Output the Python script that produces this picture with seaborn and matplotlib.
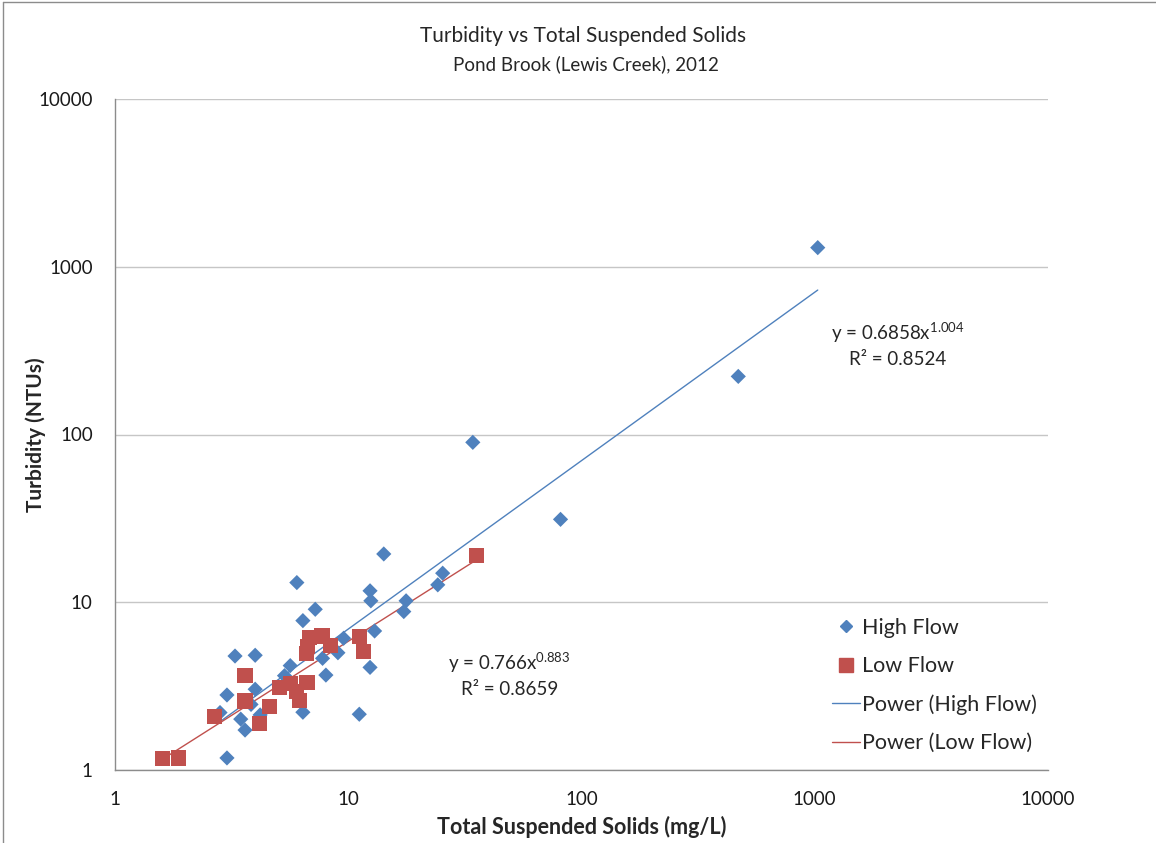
import numpy as np
import pandas as pd
import matplotlib
matplotlib.use("Agg")
import matplotlib.pyplot as plt
import matplotlib.ticker as mticker
from matplotlib.lines import Line2D
import seaborn as sns

# ---------------------------------------------------------------------------
# Data
# ---------------------------------------------------------------------------
high_tss = [1030, 470, 81.3, 34.2, 14.2, 6.02, 12.4, 12.5, 25.4, 24.2, 17.7, 17.3,
            7.22, 6.39, 12.97, 9.55, 9.03, 7.76, 8.02, 12.4, 5.64, 5.33, 3.27, 3.99,
            3.99, 3.02, 3.83, 2.82, 3.46, 4.19, 3.61, 6.39, 11.15, 3.02]
high_turb = [1300, 222, 31.2, 89.8, 19.4, 13.1, 11.7, 10.2, 14.9, 12.7, 10.2, 8.8,
             9.08, 7.77, 6.74, 6.1, 5.0, 4.63, 3.68, 4.09, 4.19, 3.65, 4.78, 4.83,
             3.03, 2.80, 2.46, 2.20, 2.01, 2.13, 1.73, 2.21, 2.15, 1.18]

low_tss = [1.60, 1.87, 2.67, 3.61, 3.61, 4.16, 4.59, 5.07, 5.64, 6.02, 6.16, 6.65,
           6.6, 6.7, 6.82, 7.71, 8.37, 11.15, 11.6, 35.4]
low_turb = [1.17, 1.18, 2.08, 3.65, 2.58, 1.90, 2.39, 3.09, 3.29, 2.93, 2.61, 3.32,
            4.96, 5.43, 6.18, 6.29, 5.51, 6.23, 5.07, 18.9]

# power trendline coefficients shown on the chart
HIGH_FIT = (0.6858, 1.004)
LOW_FIT = (0.766, 0.883)

BLUE = "#4F81BD"
RED = "#C0504D"
FONT = ["Lato", "DejaVu Sans"]

sns.set_theme(style="white")
plt.rcParams["font.family"] = FONT
plt.rcParams["mathtext.fontset"] = "custom"
plt.rcParams["mathtext.rm"] = "Lato"

high = pd.DataFrame({"tss": high_tss, "turb": high_turb})
low = pd.DataFrame({"tss": low_tss, "turb": low_turb})


def power_line(df, coef):
    xs = np.geomspace(df["tss"].min(), df["tss"].max(), 60)
    return pd.DataFrame({"tss": xs, "turb": coef[0] * xs ** coef[1]})


fig = plt.figure(figsize=(11.56, 8.43), dpi=100)
ax = fig.add_axes([115 / 1156, 1 - 770 / 843, 933 / 1156, 671 / 843])
ax.set_xscale("log")
ax.set_yscale("log")

sns.lineplot(data=power_line(high, HIGH_FIT), x="tss", y="turb", ax=ax,
             color=BLUE, linewidth=1.0, label="Power (High Flow)", zorder=2)
sns.lineplot(data=power_line(low, LOW_FIT), x="tss", y="turb", ax=ax,
             color=RED, linewidth=1.0, label="Power (Low Flow)", zorder=2)
sns.scatterplot(data=high, x="tss", y="turb", ax=ax, marker="D", s=60,
                color=BLUE, edgecolor="none", label="High Flow", zorder=3)
sns.scatterplot(data=low, x="tss", y="turb", ax=ax, marker="s", s=120,
                color=RED, edgecolor="none", label="Low Flow", zorder=4)

ax.set_xlim(1, 10000)
ax.set_ylim(1, 10000)
for axis in (ax.xaxis, ax.yaxis):
    axis.set_major_locator(mticker.LogLocator(base=10, numticks=10))
    axis.set_minor_locator(mticker.NullLocator())
    axis.set_major_formatter(mticker.FuncFormatter(lambda v, _: f"{v:g}"))

ax.grid(axis="y", color="#C6C6C6", linewidth=1.0)
ax.grid(axis="x", visible=False)
for side in ("top", "right"):
    ax.spines[side].set_visible(False)
for side in ("left", "bottom"):
    ax.spines[side].set_color("#8C8C8C")
    ax.spines[side].set_linewidth(1.0)
ax.tick_params(axis="both", which="major", direction="out", length=6,
               width=1, color="#8C8C8C", labelsize=13.5, labelcolor="#1a1a1a")
ax.tick_params(axis="y", pad=10)
ax.tick_params(axis="x", pad=9)

ax.set_xlabel("Total Suspended Solids (mg/L)", fontsize=15.5, fontweight="bold",
              labelpad=6)
ax.set_ylabel("Turbidity (NTUs)", fontsize=15, fontweight="bold")
ax.yaxis.set_label_coords(-0.074, 0.5)

# equations
ax.text(0.839, 0.635, "y = 0.6858x$^{\\mathregular{1.004}}$\nR² = 0.8524",
        transform=ax.transAxes, ha="center", va="center", fontsize=13.5,
        multialignment="center", linespacing=1.4)
ax.text(0.423, 0.143, "y = 0.766x$^{\\mathregular{0.883}}$\nR² = 0.8659",
        transform=ax.transAxes, ha="center", va="center", fontsize=13.5,
        multialignment="center", linespacing=1.4)

# legend
handles = [
    Line2D([], [], marker="D", color=BLUE, linestyle="none", markersize=6),
    Line2D([], [], marker="s", color=RED, linestyle="none", markersize=10),
    Line2D([], [], color=BLUE, linewidth=1.0),
    Line2D([], [], color=RED, linewidth=1.0),
]
labels = ["High Flow", "Low Flow", "Power (High Flow)", "Power (Low Flow)"]
ax.legend(handles, labels, loc="lower right", bbox_to_anchor=(1.009, -0.004),
          frameon=False, fontsize=15.5, handlelength=1.3, handletextpad=0.1,
          labelspacing=0.85, borderaxespad=0.5)

# titles
fig.text(583 / 1156, 1 - 36 / 843, "Turbidity vs Total Suspended Solids",
         ha="center", va="center", fontsize=15)
fig.text(586 / 1156, 1 - 64 / 843, "Pond Brook (Lewis Creek), 2012",
         ha="center", va="center", fontsize=13.5)

# chart-area border (left and top visible in reference)
fig.add_artist(Line2D([3 / 1156, 3 / 1156], [0, 1 - 2 / 843],
                      transform=fig.transFigure, color="#8C8C8C", linewidth=1))
fig.add_artist(Line2D([3 / 1156, 1], [1 - 2 / 843, 1 - 2 / 843],
                      transform=fig.transFigure, color="#8C8C8C", linewidth=1))

fig.savefig("out.png", dpi=100)
plt.close(fig)
